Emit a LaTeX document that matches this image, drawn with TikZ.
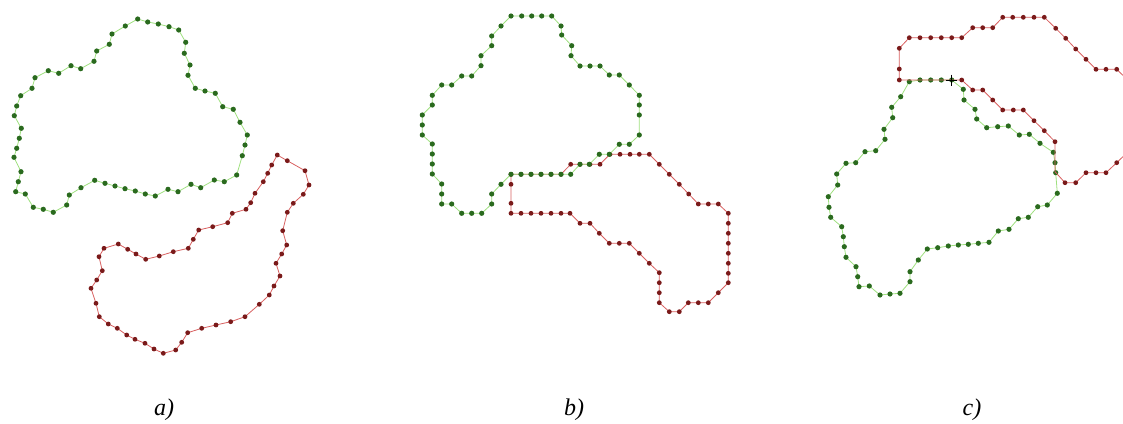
\documentclass[tikz,border=0pt]{standalone}
\usepackage{fontspec}
\setmainfont{Liberation Serif}
\definecolor{gdot}{HTML}{2A6A1E}
\definecolor{gline}{HTML}{9FE07F}
\definecolor{rdot}{HTML}{7A1A1A}
\definecolor{rline}{HTML}{D86060}
\tikzset{
  gpath/.style={draw=gline, line width=0.8pt, line join=round},
  rpath/.style={draw=rline, line width=0.8pt, line join=round},
  gdotst/.style={fill=gdot},
  rdotst/.style={fill=rdot},
  lab/.style={font=\fontsize{24}{28}\selectfont\itshape, inner sep=0pt}
}
\def\GA{(137.7,19),(147.7,22),(158.3,24),(169,26.7),(178.7,30),(185.7,42.3),(184.3,53.3),(190,65),(188,75.3),(195.3,88.3),(205,91),(215.3,93.3),(222.7,106.7),(233.3,109.3),(240,122.3),(247.3,135),(245,145),(242.3,155.7),(236.7,175),(224.3,181.7),(214.3,180),(200.7,187.7),(191,184.3),(178,191.7),(168,189.3),(155.3,196),(145.3,194),(135.3,191),(125,188.7),(115,186),(105,183.3),(94.7,180.3),(81,187.7),(69.3,195),(66.7,205),(53.3,212.3),(43.3,209.3),(33.3,207.3),(25.3,194),(15.7,191.7),(18.3,181.7),(21,171.7),(14,157.3),(16.7,148.3),(19.3,138.3),(21.3,128.3),(14.3,115.7),(16.7,106),(20.7,95.7),(32,88.3),(35,77.7),(48.3,70.7),(58.7,73.3),(71,65.7),(80.7,68.7),(94,61.3),(96.7,51),(109.3,44.3),(112,34),(125.3,26)}
\def\RA{(277.3,155),(287.3,160.7),(305,170.7),(309,185),(303.3,194.3),(293.3,203.3),(287.3,212.3),(282.7,230.7),(286.7,245),(281.7,254),(276,263.3),(280,276),(274,286),(269.3,295),(259.3,304.3),(245,316.7),(230.7,321.7),(216,325),(201.7,328.3),(187.7,332.7),(181.7,342.3),(175.7,350),(163.3,353.3),(154,349),(145,343.3),(135,339.3),(126.7,335),(117.3,328.3),(108.3,324),(99.3,316.7),(96,303.3),(91,288.3),(96.7,280),(102.3,270.7),(99,256.7),(104,248.3),(118.3,244),(127.7,249.3),(136,254),(145.7,259.3),(159.3,256),(173.3,251.7),(188.3,248.3),(193.3,239.3),(198.7,230),(212.7,226.7),(227.7,222.7),(232.3,213.3),(246,209.3),(250.7,202.7),(255,193.3),(263.3,181.7),(267.7,173.3),(271.7,165)}
\def\GB{(511,16),(521.7,16),(531.7,16),(541.7,16),(551.7,16),(561,26),(561.7,35),(571.7,45.7),(571,55.7),(580,66),(590,66),(600,66),(609.3,75),(619.3,75),(629.3,85),(639.3,95.3),(639.3,105),(639.3,115),(639.3,135),(629.3,144.3),(619.3,144.3),(609.3,154.3),(599.3,154.3),(589.3,164.3),(580,164.3),(570.7,174.3),(561,174.3),(551,174.3),(541,174.3),(531,174.3),(521,174.3),(511,174.3),(501,184.3),(491.7,194),(491.7,204),(481.7,213.3),(471.7,213.3),(461.7,213.3),(451.7,204),(441.7,204),(441.7,194),(441.7,184),(432.3,174),(432.3,164),(432.3,154),(432.3,144),(422.3,135),(422.3,125),(422.3,115),(432.3,105),(432.3,95.3),(441.7,85),(451.7,85),(461.7,76),(471.7,76),(481,65.7),(481,55.7),(491.7,45.7),(491.7,36),(501,26)}
\def\RB{(600,164.3),(610,154.3),(620,154.3),(630,154.3),(639.3,154.3),(649.3,154.3),(659.3,164.3),(669.3,174.3),(679.3,184.3),(688.7,194),(698.3,204),(708.3,204),(718.3,204),(728.3,213.3),(728.3,223.3),(728.3,233.3),(728.3,243.3),(728.3,253.3),(728.3,263.3),(728.3,273.3),(728.3,282.7),(718.3,292.7),(708.3,302.7),(698.3,302.7),(688.3,302.7),(679.3,311.7),(669.3,311.7),(659.3,302.7),(659.3,292.7),(659.3,282.7),(659.3,272.7),(649.3,263.3),(639.3,253.3),(629.3,243.3),(619.3,243.3),(609.3,243.3),(599.3,233.3),(590,223.3),(580,223.3),(570,213.3),(561,213.3),(551,213.3),(541,213.3),(531,213.3),(521,213.3),(511,213.3),(511,203.3),(511,184.3),(511,174.3),(521,174.3),(531,174.3),(541,174.3),(551,174.3),(561,174.3),(570.7,164.3),(580,164.3),(590,164.3)}
\def\GC{(909.3,81.7),(920,80),(930.7,80),(941.3,80),(951.7,80),(963.3,89.3),(964,100),(975,109.3),(976.7,119),(986.7,127.7),(997.7,126.7),(1008.3,126),(1019.3,135),(1029.3,134.3),(1040,143.3),(1053.3,152.3),(1055,162.7),(1055.7,172.7),(1057.3,193.3),(1047.3,205),(1037.7,206.7),(1028.3,217.3),(1018.3,218.7),(1009,229.3),(998.3,231),(989,242.3),(978.3,243.3),(968.3,244.3),(958.3,245),(948.3,246),(937.7,247.7),(927.3,249),(918.3,260),(910,271.7),(910,281.7),(900,293.3),(890,294),(880,295),(869.3,286),(859,286.7),(857.7,276.7),(856,266.7),(846,257.3),(844.3,246.7),(843.3,236.7),(841.7,226.7),(830.7,217.3),(829,207.3),(828.3,196.7),(837.7,185),(836.7,174),(846,163.3),(855.7,162.7),(865,151.7),(875.7,150.7),(885,139.3),(884,129.3),(892.7,117.7),(891.7,107.3),(900.7,96.7)}
\def\RC{(1002.7,17.3),(1012.7,17.3),(1023.3,17.3),(1034,17.3),(1044.3,17.3),(1055.7,28.3),(1065.7,38.3),(1075.7,49),(1086,59.3),(1096,69.3),(1106,69.3),(1116.7,69.3),(1127,79.3),(1127,152.7),(1116.7,162.7),(1106,172.7),(1096,172.7),(1086,172.7),(1075.7,182.7),(1065,182.7),(1055,171.7),(1055,161.7),(1055,151.7),(1055,141.7),(1044.3,130.7),(1034,120.7),(1023.3,110),(1013.3,110),(1002.7,110),(992.7,100),(982.7,90),(972.7,90),(961.7,80),(951.7,80),(941.3,80),(930.7,80),(920,80),(910,80),(899.3,80),(899.3,69),(899.3,48.3),(909.3,37.7),(920,37.7),(930.7,37.7),(941.3,37.7),(951.7,37.7),(961.7,37.7),(972.7,27.7),(982.7,27.7),(992.7,27.7)}
\def\RCdots{(1002.7,17.3),(1012.7,17.3),(1023.3,17.3),(1034,17.3),(1044.3,17.3),(1055.7,28.3),(1065.7,38.3),(1075.7,49),(1086,59.3),(1096,69.3),(1106,69.3),(1116.7,69.3),(1116.7,162.7),(1106,172.7),(1096,172.7),(1086,172.7),(1075.7,182.7),(1065,182.7),(1055,141.7),(1044.3,130.7),(1034,120.7),(1023.3,110),(1013.3,110),(1002.7,110),(992.7,100),(982.7,90),(972.7,90),(961.7,80),(899.3,80),(899.3,69),(899.3,48.3),(909.3,37.7),(920,37.7),(930.7,37.7),(941.3,37.7),(951.7,37.7),(961.7,37.7),(972.7,27.7),(982.7,27.7),(992.7,27.7)}
\begin{document}
\begin{tikzpicture}[x=1pt,y=-1pt]
\useasboundingbox (0,0) rectangle (1123,423);
\clip (0,0) rectangle (1123,423);
% panel a
\draw[gpath] (125.3,26) foreach \p in \GA {-- \p} -- cycle;
\foreach \p in \GA {\fill[gdotst] \p circle (2.6);}
\draw[rpath] (271.7,165) foreach \p in \RA {-- \p} -- cycle;
\foreach \p in \RA {\fill[rdotst] \p circle (2.4);}
% panel b
\draw[rpath] (590,164.3) foreach \p in \RB {-- \p} -- cycle;
\foreach \p in \RB {\fill[rdotst] \p circle (2.4);}
\draw[gpath] (501,26) foreach \p in \GB {-- \p} -- cycle;
\foreach \p in \GB {\fill[gdotst] \p circle (2.6);}
% panel c
\draw[gpath] (900.7,96.7) foreach \p in \GC {-- \p} -- cycle;
\foreach \p in \GC {\fill[gdotst] \p circle (2.6);}
\draw[rpath] (992.7,27.7) foreach \p in \RC {-- \p} -- cycle;
\foreach \p in \RCdots {\fill[rdotst] \p circle (2.4);}
\draw[black, line width=0.6pt] (946.2,80) -- (957.2,80) (951.7,74.5) -- (951.7,85.5);
% labels
\node[lab] (la) at (164,410) {a)};
\node[lab] (lb) at (574,410) {b)};
\node[lab] (lc) at (972,410) {c)};
\end{tikzpicture}
\end{document}
